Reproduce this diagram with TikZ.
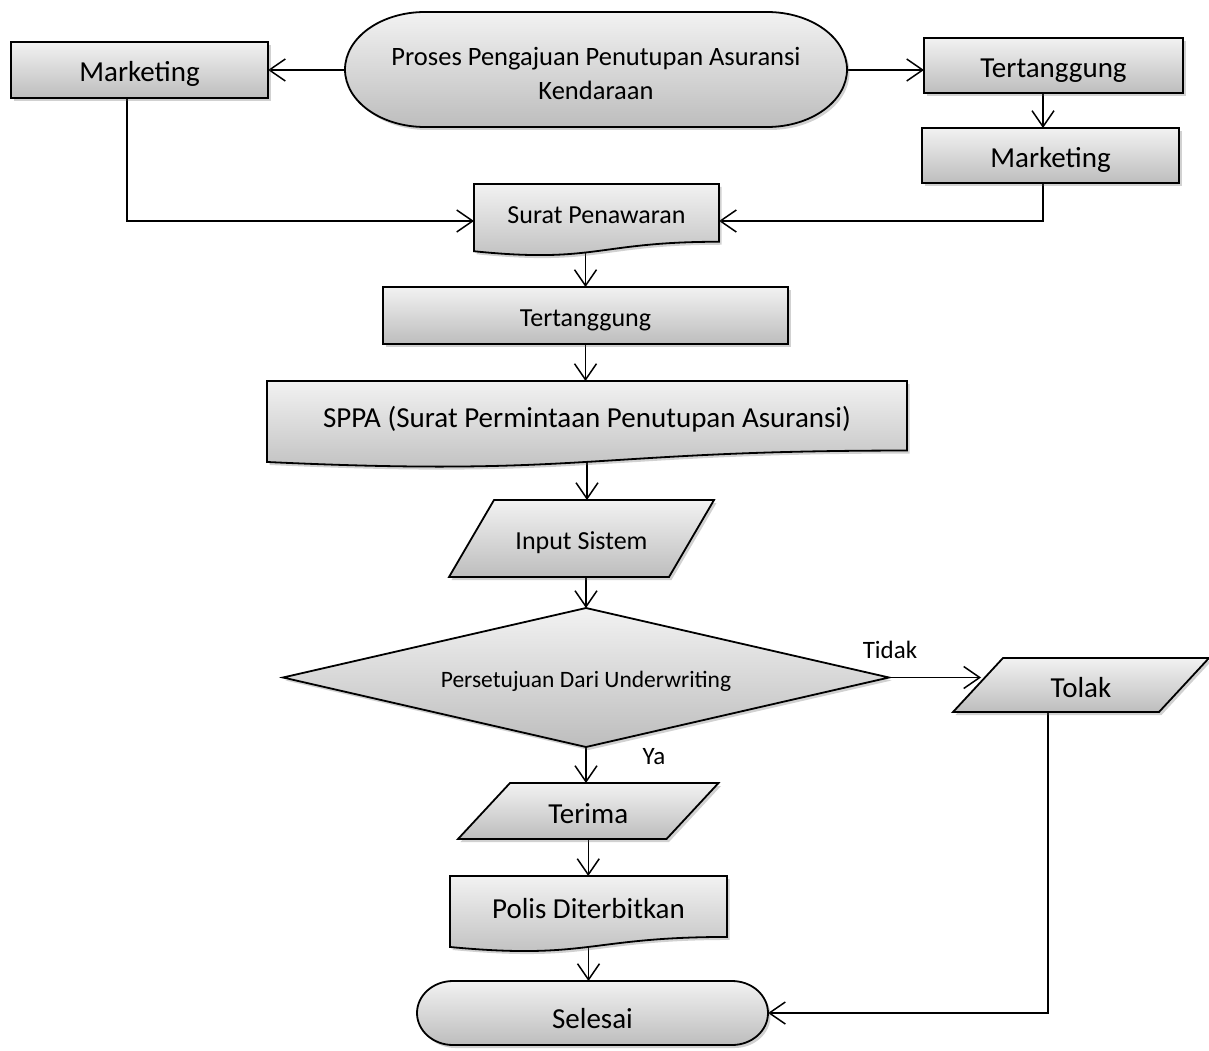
\documentclass[tikz,border=0pt]{standalone}
\usepackage{fontspec}
\setmainfont{Carlito}
\usetikzlibrary{arrows.meta,shadows,calc}
\definecolor{gtop}{HTML}{F2F2F2}
\definecolor{gbot}{HTML}{BDBDBD}
\pgfdeclarelayer{bg}
\pgfsetlayers{bg,main}
\tikzset{
  big/.style={font=\fontsize{29}{33}\selectfont, text height=24pt, text depth=0pt},
  mid/.style={font=\fontsize{26}{27.5}\selectfont, text height=21pt, text depth=0pt},
  midml/.style={font=\fontsize{26.5}{33.6}\selectfont},
  lbl/.style={font=\fontsize{25}{27}\selectfont},
  small/.style={font=\fontsize{23.5}{26}\selectfont, text height=19pt, text depth=0pt},
  holder/.style={draw=none, inner sep=0pt, outer sep=0pt},
  shapefill/.style={draw=black, line width=1.8pt, top color=gtop, bottom color=gbot,
    drop shadow={shadow xshift=2.5pt, shadow yshift=-3pt, opacity=0.3, fill=black!60}},
  box/.style={shapefill, inner sep=0pt, outer sep=0pt},
  conn/.style={line width=1.5pt, -{Straight Barb[length=16pt,width=22pt,line width=1.5pt]}},
}
\newcommand\stadiumpath[5]{%
  \pgfmathsetmacro\sxl{#1-#3/2}\pgfmathsetmacro\sxr{#1+#3/2}%
  \pgfmathsetmacro\syt{#2-#4/2}\pgfmathsetmacro\syb{#2+#4/2}%
  \pgfmathsetmacro\sal{\sxl+#5}\pgfmathsetmacro\sar{\sxr-#5}%
  \pgfmathsetmacro\skx{0.5523*#5}\pgfmathsetmacro\sky{0.5523*#4/2}%
  \path[shapefill] (\sal,\syt) -- (\sar,\syt)
    .. controls (\sar+\skx,\syt) and (\sxr,#2-\sky) .. (\sxr,#2)
    .. controls (\sxr,#2+\sky) and (\sar+\skx,\syb) .. (\sar,\syb)
    -- (\sal,\syb)
    .. controls (\sal-\skx,\syb) and (\sxl,#2+\sky) .. (\sxl,#2)
    .. controls (\sxl,#2-\sky) and (\sal-\skx,\syt) .. (\sal,\syt) -- cycle;}
\newcommand\docpath[4]{%
  \path[shapefill] (#1,#3) -- (#2,#3) -- (#2,{#3+0.802*#4})
    .. controls ({(#1+#2)/2},{#3+0.802*#4}) and ({(#1+#2)/2},{#3+1.1075*#4}) .. (#1,{#3+0.934*#4}) -- cycle;}
\newcommand\parapath[5]{%
  \path[shapefill] (#1,#5) -- ({#1+#3},#5) -- ({#2+#3},#4) -- (#2,#4) -- cycle;}
\begin{document}
\begin{tikzpicture}[x=1pt,y=-1pt]
\useasboundingbox (0,0) rectangle (1209,1051);

% start
\stadiumpath{596}{69.5}{502}{115}{80}
\node[holder,midml,align=center,minimum width=502pt,minimum height=115pt] (proses) at (596,73.2) {Proses Pengajuan Penutupan Asuransi\\Kendaraan};

\node[box,big,minimum width=257pt,minimum height=56pt] (mktL) at (139.5,70) {Marketing};
\node[box,big,minimum width=259pt,minimum height=55pt] (tertR) at (1053.5,65.5) {Tertanggung};
\node[box,big,minimum width=257pt,minimum height=55pt] (mktR) at (1050.5,155.5) {Marketing};

\docpath{474}{719}{184}{72}
\node[holder,mid,minimum width=245pt,minimum height=58pt] (surat) at (596.5,213) {Surat Penawaran};

\node[box,mid,minimum width=405pt,minimum height=57pt] (tertM) at (585.5,315.5) {Tertanggung};

\docpath{267}{907}{381}{86.7}
\node[holder,big,minimum width=640pt,minimum height=69.5pt] (sppa) at (587,415.75) {SPPA (Surat Permintaan Penutupan Asuransi)};

\parapath{449}{494}{220}{500}{577}
\node[holder,mid,minimum width=265pt,minimum height=77pt] (input) at (581.5,538.5) {Input Sistem};

\path[shapefill] (283,677.5) -- (586,608) -- (889,677.5) -- (586,747) -- cycle;
\node[holder,small,minimum width=606pt,minimum height=139pt] (dec) at (586,677.5) {Persetujuan Dari Underwriting};

\parapath{953}{1003}{206}{658}{712}
\node[holder,big,minimum width=256pt,minimum height=54pt] (tolak) at (1081,685) {Tolak};

\parapath{458}{510}{208.5}{783}{839}
\node[holder,big,minimum width=260pt,minimum height=56pt] (terima) at (588.25,811) {Terima};

\docpath{450}{727}{876}{76}
\node[holder,big,minimum width=277pt,minimum height=61pt] (polis) at (588.5,906.5) {Polis Diterbitkan};

\stadiumpath{592.5}{1013}{351}{64}{36}
\node[holder,big,text height=30pt,minimum width=351pt,minimum height=64pt] (selesai) at (592.5,1013) {Selesai};

\node[lbl] (tidak) at (890,650) {Tidak};
\node[lbl] (ya) at (654,757) {Ya};

\begin{pgfonlayer}{bg}
\draw[conn] (proses.west |- mktL.east) -- (mktL.east);
\draw[conn] (proses.east |- mktL.east) -- (mktL.east -| tertR.west);
\draw[conn] ([xshift=-10.5pt]tertR.south) -- ([xshift=-7.5pt]mktR.north);
\draw[conn] ([xshift=-7.5pt]mktR.south) |- ([yshift=-8pt]surat.east);
\draw[conn] ([xshift=-12.5pt]mktL.south) |- ([yshift=-8pt]surat.west);
\draw[conn] (tertM.north |- surat.south) -- (tertM.north);
\draw[conn] (tertM.south) -- (tertM.south |- sppa.north);
\draw[conn] (sppa.south) -- (sppa.south |- input.north);
\draw[conn] (dec.north |- input.south) -- (dec.north);
\draw[conn] (dec.east) -- ([xshift=28pt]tolak.west |- dec.east);
\draw[conn] (dec.south) -- (dec.south |- terima.north);
\draw[conn] (terima.south) -- (terima.south |- polis.north);
\draw[conn] (polis.south) -- (polis.south |- selesai.north);
\draw[conn] ([xshift=-33pt]tolak.south) |- (selesai.east);
\end{pgfonlayer}
\end{tikzpicture}
\end{document}
